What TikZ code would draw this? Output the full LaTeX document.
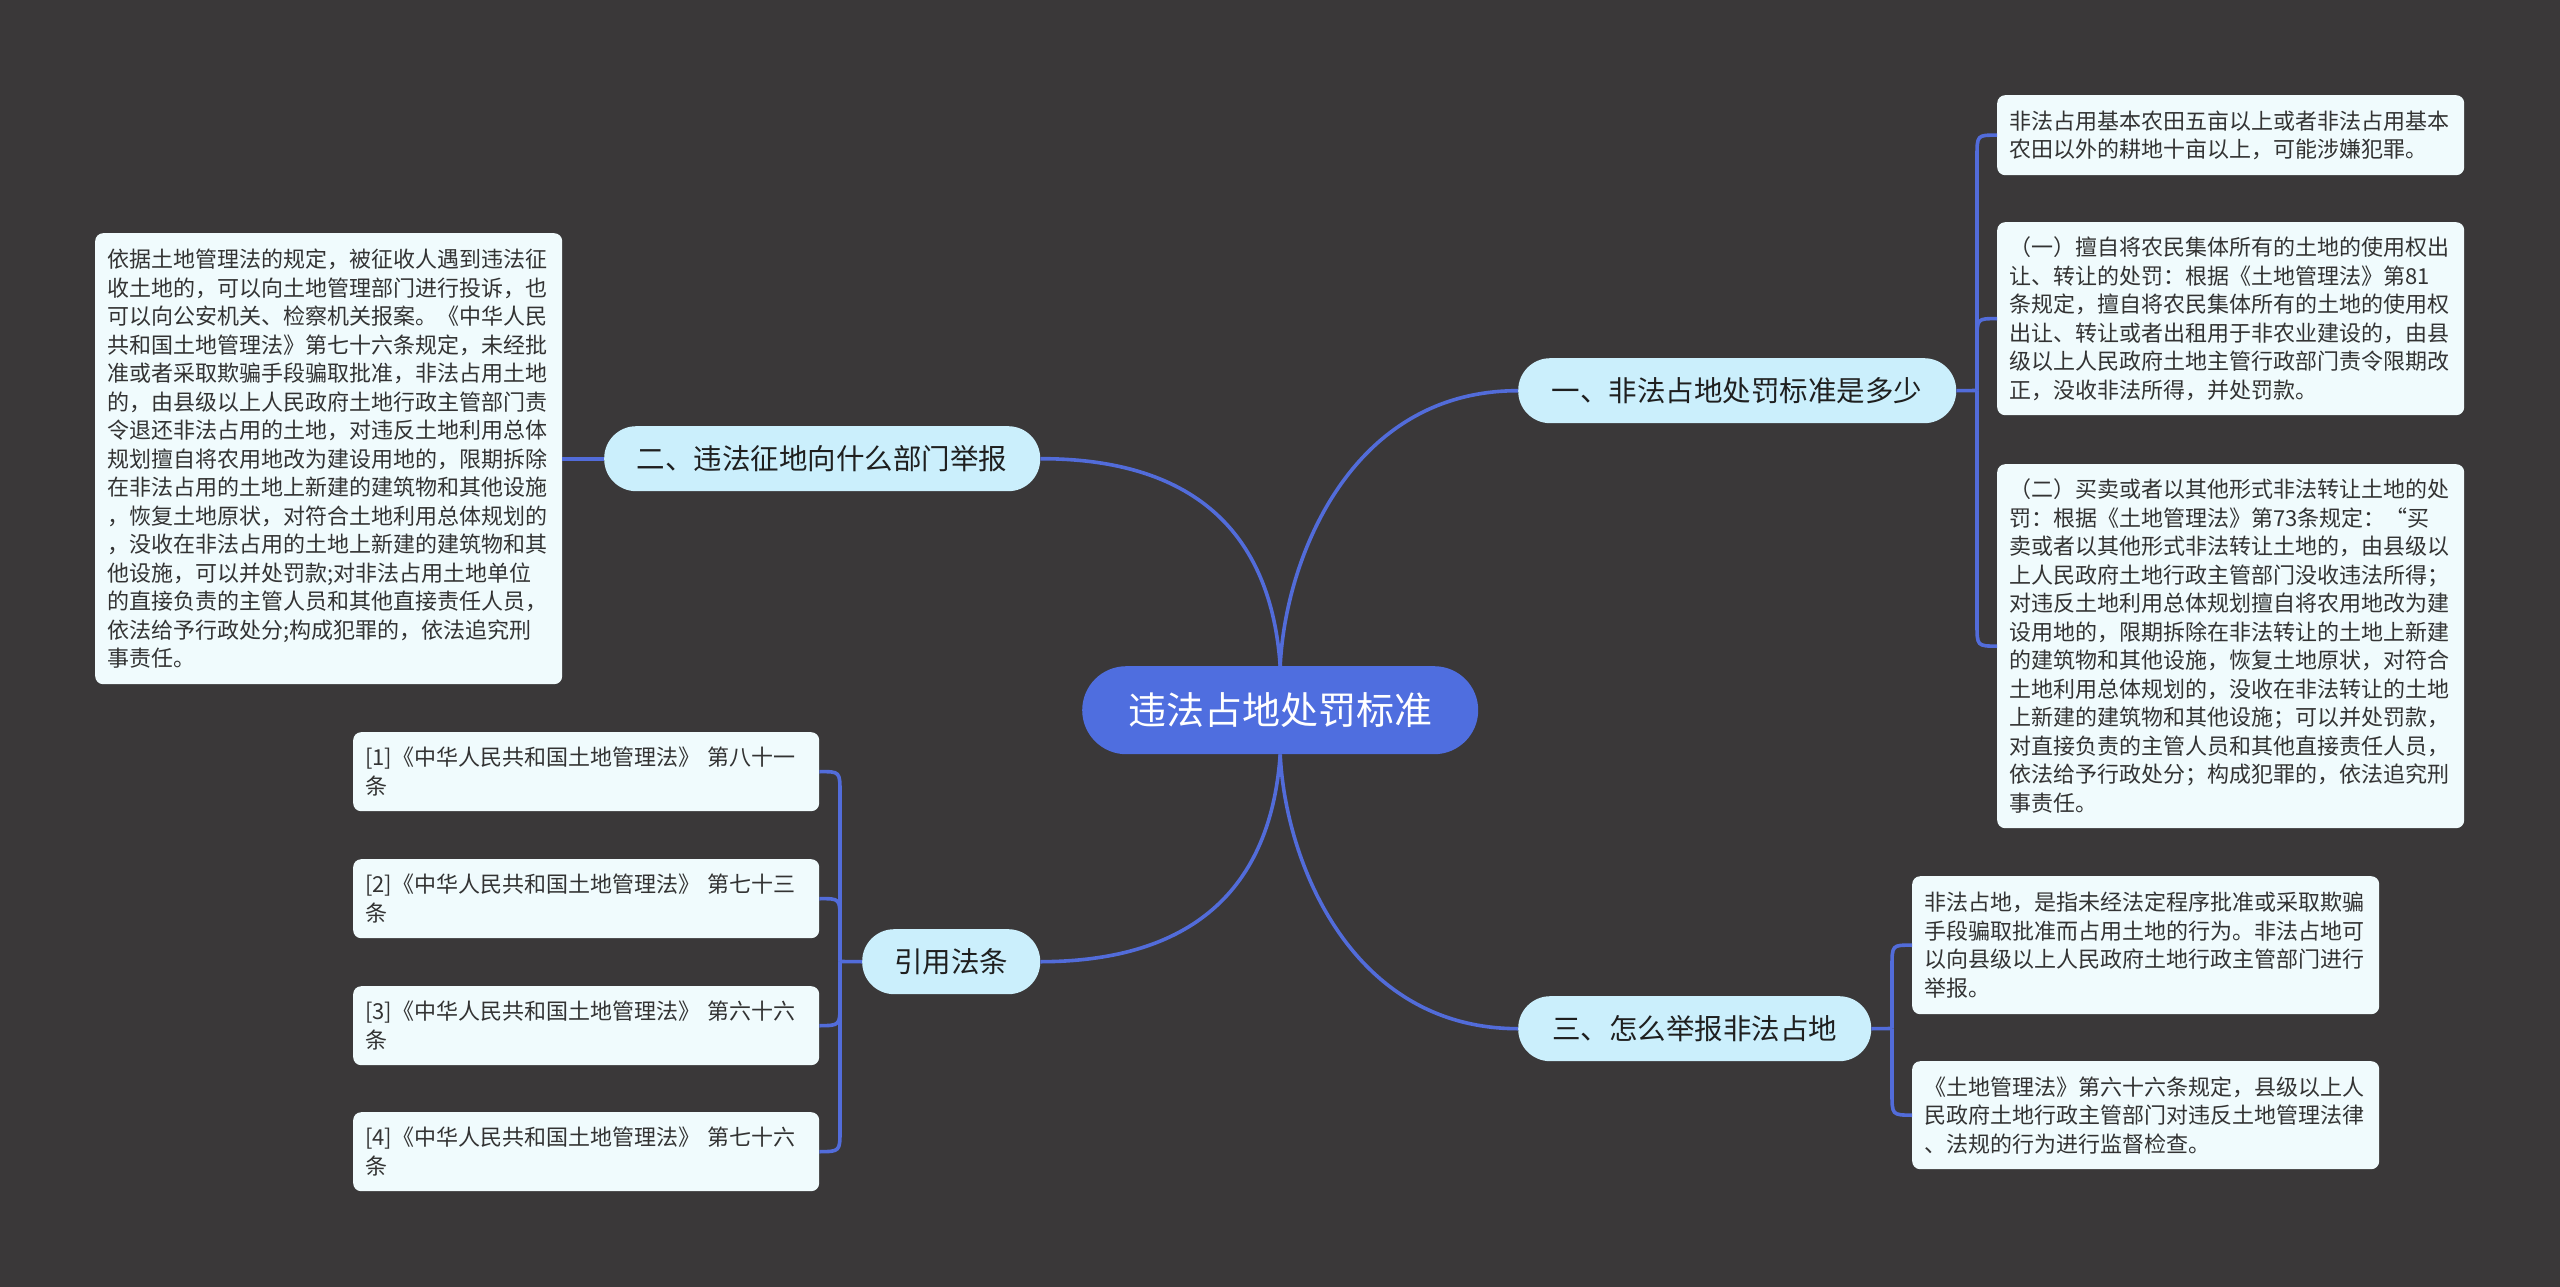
\documentclass[tikz,border=0pt]{standalone}
\usepackage{fontspec}
\newfontfamily\cjk{Noto Sans CJK SC}
\definecolor{bgc}{RGB}{58,56,57}
\definecolor{centerfill}{RGB}{79,110,223}
\definecolor{linkc}{RGB}{82,108,218}
\definecolor{branchfill}{RGB}{203,239,252}
\definecolor{leaffill}{RGB}{240,251,253}
\definecolor{textdark}{RGB}{51,51,51}
\begin{document}
\begin{tikzpicture}[x=1pt,y=-1pt,
  leaf/.style={fill=leaffill, rounded corners=8, anchor=north west, inner xsep=12, inner ysep=0,
    align=left, text=textdark, font=\cjk\fontsize{22}{28.5}\selectfont},
  branch/.style={fill=branchfill, rounded corners=32, anchor=north west, minimum height=65,
    inner xsep=0, inner ysep=0, text=black!88, font=\cjk\fontsize{28.5}{34}\selectfont},
  root/.style={fill=centerfill, rounded corners=44, anchor=north west, minimum height=88,
    minimum width=396, inner sep=0, text=white, font=\cjk\fontsize{38}{44}\selectfont},
  link/.style={draw=linkc, line width=3.6}]
\fill[bgc] (0,0) rectangle (2560,1287);
\useasboundingbox (0,0) rectangle (2560,1287);

% root and branches
\node[root] (c) at (1082,666) {违法占地处罚标准};
\node[branch, minimum width=438] (n1) at (1518,358) {一、非法占地处罚标准是多少};
\node[branch, minimum width=436] (n2) at (604,426) {二、违法征地向什么部门举报};
\node[branch, minimum width=178] (n4) at (862,929) {引用法条};
\node[branch, minimum width=353] (n3) at (1518,996) {三、怎么举报非法占地};

% leaves of branch 1
\node[leaf, minimum width=467, text width=443, minimum height=80] (r1) at (1997,95)
  {非法占用基本农田五亩以上或者非法占用基本\\农田以外的耕地十亩以上，可能涉嫌犯罪。};
\node[leaf, minimum width=467, text width=443, minimum height=193] (r2) at (1997,222)
  {（一）擅自将农民集体所有的土地的使用权出\\让、转让的处罚：根据《土地管理法》第81\\条规定，擅自将农民集体所有的土地的使用权\\出让、转让或者出租用于非农业建设的，由县\\级以上人民政府土地主管行政部门责令限期改\\正，没收非法所得，并处罚款。};
\node[leaf, minimum width=467, text width=443, minimum height=364] (r3) at (1997,464)
  {（二）买卖或者以其他形式非法转让土地的处\\罚：根据《土地管理法》第73条规定：“买\\卖或者以其他形式非法转让土地的，由县级以\\上人民政府土地行政主管部门没收违法所得；\\对违反土地利用总体规划擅自将农用地改为建\\设用地的，限期拆除在非法转让的土地上新建\\的建筑物和其他设施，恢复土地原状，对符合\\土地利用总体规划的，没收在非法转让的土地\\上新建的建筑物和其他设施；可以并处罚款，\\对直接负责的主管人员和其他直接责任人员，\\依法给予行政处分；构成犯罪的，依法追究刑\\事责任。};

% leaf of branch 2
\node[leaf, minimum width=467, text width=443, minimum height=451] (l1) at (95,233)
  {依据土地管理法的规定，被征收人遇到违法征\\收土地的，可以向土地管理部门进行投诉，也\\可以向公安机关、检察机关报案。《中华人民\\共和国土地管理法》第七十六条规定，未经批\\准或者采取欺骗手段骗取批准，非法占用土地\\的，由县级以上人民政府土地行政主管部门责\\令退还非法占用的土地，对违反土地利用总体\\规划擅自将农用地改为建设用地的，限期拆除\\在非法占用的土地上新建的建筑物和其他设施\\，恢复土地原状，对符合土地利用总体规划的\\，没收在非法占用的土地上新建的建筑物和其\\他设施，可以并处罚款;对非法占用土地单位\\的直接负责的主管人员和其他直接责任人员，\\依法给予行政处分;构成犯罪的，依法追究刑\\事责任。};

% leaves of branch 3
\node[leaf, minimum width=467, text width=443, minimum height=138] (r4) at (1912,876)
  {非法占地，是指未经法定程序批准或采取欺骗\\手段骗取批准而占用土地的行为。非法占地可\\以向县级以上人民政府土地行政主管部门进行\\举报。};
\node[leaf, minimum width=467, text width=443, minimum height=108] (r5) at (1912,1061)
  {《土地管理法》第六十六条规定，县级以上人\\民政府土地行政主管部门对违反土地管理法律\\、法规的行为进行监督检查。};

% citations
\node[leaf, minimum width=466, text width=442, minimum height=79] (k1) at (353,732)
  {[1]《中华人民共和国土地管理法》~第八十一\\条};
\node[leaf, minimum width=466, text width=442, minimum height=79] (k2) at (353,859)
  {[2]《中华人民共和国土地管理法》~第七十三\\条};
\node[leaf, minimum width=466, text width=442, minimum height=79] (k3) at (353,986)
  {[3]《中华人民共和国土地管理法》~第六十六\\条};
\node[leaf, minimum width=466, text width=442, minimum height=79] (k4) at (353,1112)
  {[4]《中华人民共和国土地管理法》~第七十六\\条};

% root connectors
\draw[link] (c.north) .. controls (1285,560) and (1350,390.5) .. (n1.west);
\draw[link] (c.north) .. controls (1270,520) and (1180,458.5) .. (n2.east);
\draw[link] (c.south) .. controls (1270,900) and (1180,961.5) .. (n4.east);
\draw[link] (c.south) .. controls (1285,860) and (1350,1028.5) .. (n3.west);

% branch 1 bracket
\coordinate (j1) at (1977,390.5);
\draw[link] (n1.east) -- (j1);
\draw[link] (j1) -- (1977,157) .. controls (1977,135) .. (r1.west);
\draw[link] (j1) -- (1977,340.5) .. controls (1977,318.5) .. (r2.west);
\draw[link] (j1) -- (1977,624) .. controls (1977,646) .. (r3.west);

% branch 2
\draw[link] (n2.west) -- (l1.east |- n2.west);

% branch 3 bracket
\coordinate (j3) at (1892,1028.5);
\draw[link] (n3.east) -- (j3);
\draw[link] (j3) -- (1892,967) .. controls (1892,945) .. (r4.west);
\draw[link] (j3) -- (1892,1093) .. controls (1892,1115) .. (r5.west);

% citations bracket
\coordinate (j4) at (840,961.5);
\draw[link] (n4.west) -- (j4);
\draw[link] (j4) -- (840,793.5) .. controls (840,771.5) .. (k1.east);
\draw[link] (j4) -- (840,920.5) .. controls (840,898.5) .. (k2.east);
\draw[link] (j4) -- (840,1003.5) .. controls (840,1025.5) .. (k3.east);
\draw[link] (j4) -- (840,1129.5) .. controls (840,1151.5) .. (k4.east);
\end{tikzpicture}
\end{document}
